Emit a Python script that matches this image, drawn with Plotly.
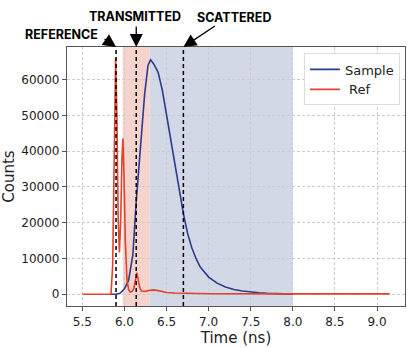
import plotly.graph_objects as go

# Sample (transmitted + scattered) signal
sample_t = [5.84, 5.90, 5.95, 6.00, 6.05, 6.10, 6.14, 6.20, 6.24, 6.28, 6.31, 6.35, 6.40,
            6.45, 6.50, 6.55, 6.60, 6.65, 6.70, 6.75, 6.80, 6.85, 6.90, 7.00, 7.10,
            7.20, 7.30, 7.40, 7.50, 7.60, 7.70, 7.80, 7.90, 8.00]
sample_c = [0, 0, 300, 1500, 4000, 11000, 26000, 44000, 56000, 64000, 65500, 64300, 62000,
            57000, 50000, 43000, 36000, 29000, 22500, 17000, 13000, 10000, 7600, 4800, 3100,
            2000, 1300, 900, 600, 400, 250, 150, 80, 30]

# Reference signal
ref_t = [5.50, 5.84, 5.86, 5.88, 5.895, 5.91, 5.925, 5.94, 5.955, 5.97, 5.982, 5.995,
         6.01, 6.03, 6.05, 6.07, 6.09, 6.11, 6.13, 6.147, 6.16, 6.18, 6.20, 6.25, 6.30,
         6.35, 6.40, 6.45, 6.50, 6.60, 6.80, 7.00, 8.00, 9.15]
ref_c = [0, 0, 8000, 45000, 66000, 50000, 22000, 11700, 20000, 38000, 43500, 33000,
         15000, 4000, 1200, 600, 800, 1500, 4500, 6000, 4500, 2000, 900, 800, 1100,
         1200, 1000, 700, 500, 350, 200, 150, 100, 100]

# Markers / regions
line_times = [5.90, 6.14, 6.70]
line_labels = ["REFERENCE", "TRANSMITTED", "SCATTERED"]
transmitted_region = [5.98, 6.30]
scattered_region = [6.30, 8.00]
x_ticks = [5.5, 6.0, 6.5, 7.0, 7.5, 8.0, 8.5, 9.0]
y_ticks = [0, 10000, 20000, 30000, 40000, 50000, 60000]

fig = go.Figure()
fig.add_trace(go.Scatter(x=sample_t, y=sample_c, mode="lines", name="Sample",
                         line=dict(color="#2a3d8f", width=1.6)))
fig.add_trace(go.Scatter(x=ref_t, y=ref_c, mode="lines", name=" Ref",
                         line=dict(color="#e2432c", width=1.6)))

fig.add_vrect(x0=transmitted_region[0], x1=transmitted_region[1], fillcolor="#f6d3cc",
              line_width=0, layer="below")
fig.add_vrect(x0=scattered_region[0], x1=scattered_region[1], fillcolor="#d3d8e6",
              line_width=0, layer="below")
for t in line_times:
    fig.add_shape(type="line", x0=t, x1=t, y0=0, y1=1, xref="x", yref="paper",
                  line=dict(color="black", width=1.5, dash="4px,3px"))

# arrows
arrow_offsets = [(-13, -9), (0, -22), (33, -22)]
for t, (ax, ay) in zip(line_times, arrow_offsets):
    fig.add_annotation(x=t, y=1, xref="x", yref="paper", ax=ax, ay=ay, text="",
                       showarrow=True, arrowhead=2, arrowsize=2.0, arrowwidth=1.3,
                       arrowcolor="black")
text_pos = [(-0.016, 1.049), (0.202, 1.118), (0.494, 1.113)]
for lab, (px, py) in zip(line_labels, text_pos):
    fig.add_annotation(x=px, y=py, xref="paper", yref="paper", text="<b>%s</b>" % lab,
                       showarrow=False, xanchor="center", yanchor="middle",
                       font=dict(family="Inter, sans-serif", size=12.5, color="black"))

axis_common = dict(showline=True, linecolor="#555555", linewidth=1.2, mirror=True,
                   ticks="outside", ticklen=4, tickcolor="#555555",
                   showgrid=True, gridcolor="#cccccc", gridwidth=0.8, griddash="3px,2px",
                   zeroline=False, tickfont=dict(family="DejaVu Sans", size=12, color="#222222"))

fig.update_layout(
    width=411, height=348,
    margin=dict(l=65, r=5, t=47, b=40),
    paper_bgcolor="white", plot_bgcolor="white",
    showlegend=True,
    legend=dict(x=0.985, y=0.975, xanchor="right", yanchor="top", itemwidth=30,
                bgcolor="rgba(255,255,255,0.9)", bordercolor="#dddddd", borderwidth=1,
                font=dict(family="DejaVu Sans", size=13, color="#222222")),
    xaxis=dict(range=[5.3175, 9.3325], tickvals=x_ticks,
               ticktext=["%.1f" % v for v in x_ticks],
               title=dict(text="Time (ns)", font=dict(family="DejaVu Sans", size=15, color="#222222"),
                          standoff=4),
               **axis_common),
    yaxis=dict(range=[-3290, 69090], tickvals=y_ticks,
               ticktext=[str(v) for v in y_ticks],
               title=dict(text="Counts", font=dict(family="DejaVu Sans", size=15, color="#222222"),
                          standoff=6),
               **axis_common),
)

fig.write_html("out.html")
